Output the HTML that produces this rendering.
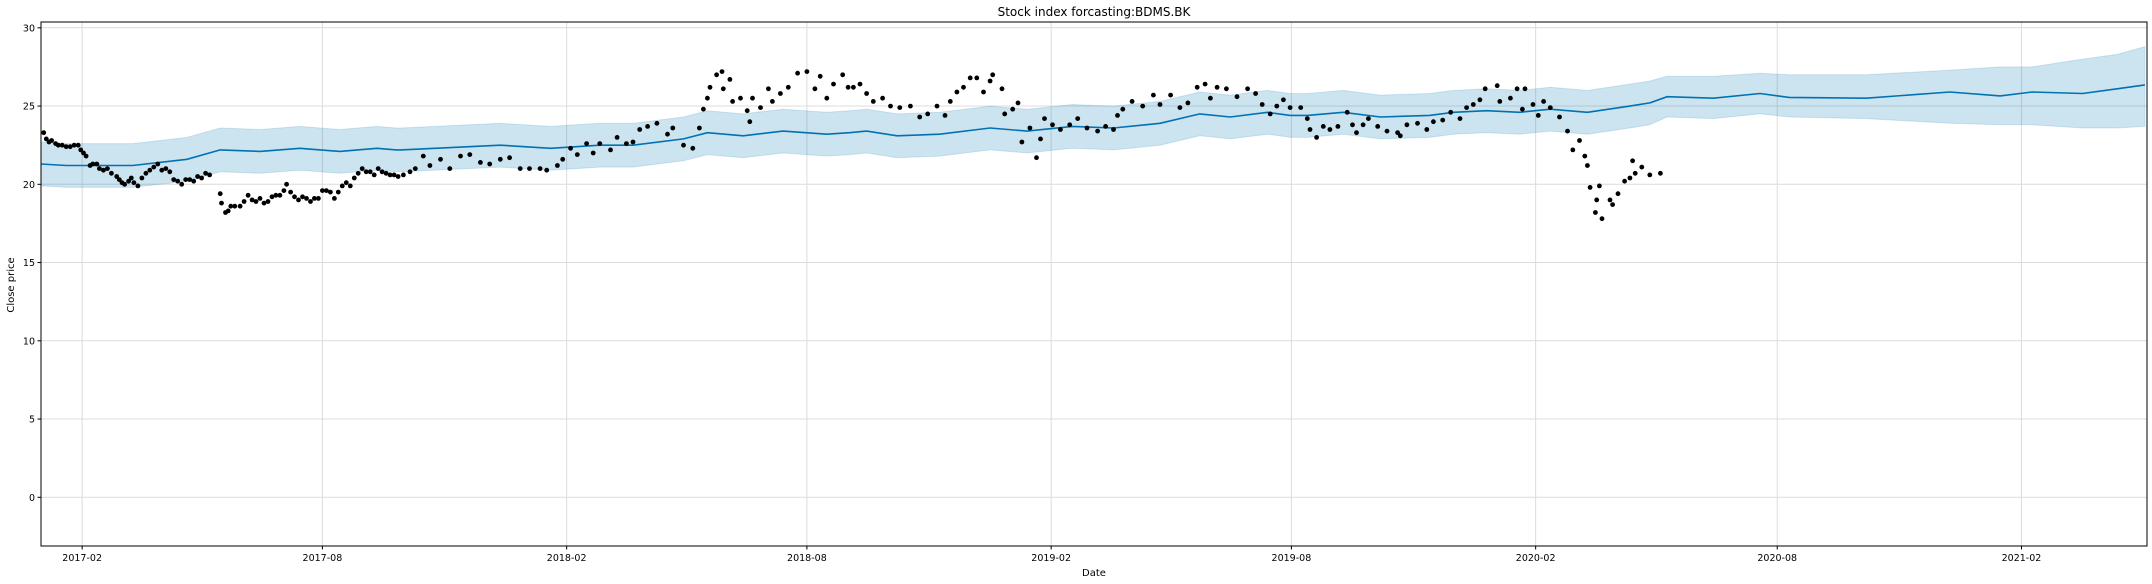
<!DOCTYPE html>
<html><head><meta charset="utf-8"><style>
html,body{margin:0;padding:0;background:#fff;}
svg{display:block;font-family:"DejaVu Sans","Liberation Sans",sans-serif;}
</style></head><body>
<svg id="chart" width="2152" height="584" viewBox="0 0 2152 584" xmlns="http://www.w3.org/2000/svg">
<text x="1094" y="16" text-anchor="middle" font-size="12" fill="#000">Stock index forcasting:BDMS.BK</text>
<text x="1094" y="576" text-anchor="middle" font-size="10" fill="#000">Date</text>
<text x="14" y="285" text-anchor="middle" font-size="10" fill="#000" transform="rotate(-90 14 285)">Close price</text>
<g id="grid"></g>
<g id="band"></g>
<g id="line"></g>
<g id="dots"></g>
<g id="axes"></g>
</svg>
<script>
// days since 2017-01-01
const obsDay=[2,4,6,8,11,13,16,19,22,25,28,30,32,34,37,39,42,44,47,50,53,57,59,61,63,66,68,70,73,76,79,82,85,88,91,94,97,100,103,106,109,112,115,118,121,124,127,135,136,139,141,143,146,150,153,156,159,162,165,168,171,174,177,180,183,185,188,191,194,197,200,203,206,209,212,215,218,221,224,227,230,233,236,239,242,245,248,251,254,257,260,263,266,269,
273,278,282,288,293,301,308,316,323,331,338,346,353,361,368,376,381,389,393,399,404,411,416,421,429,434,441,446,451,457,464,472,476,484,491,496,499,502,504,509,513,514,519,521,527,532,534,536,542,548,551,557,563,570,577,583,587,592,597,604,608,
612,617,622,627,634,640,647,655,662,668,675,681,685,690,695,700,705,710,715,717,724,726,732,736,739,745,750,753,756,762,768,775,781,788,796,802,808,811,815,822,830,838,843,851,858,864,871,877,881,886,893,901,909,915,920,926,931,936,
941,949,954,956,961,966,971,977,984,988,991,996,1000,1007,1014,1022,1024,1029,1037,1044,1049,1056,1062,1069,1074,1079,1084,1088,1097,1099,1107,1112,1116,1118,1124,1128,1132,1137,1144,1150,1154,1159,1163,1165,1167,1171,1172,1174,1176,1182,1184,1188,1193,1197,1199,1201,1206,1212,1220];
const obsClose=[23.3,22.9,22.7,22.8,22.6,22.5,22.5,22.4,22.4,22.5,22.5,22.2,22.0,21.8,21.2,21.3,21.3,21.0,20.9,21.0,20.7,20.5,20.3,20.1,20.0,20.2,20.4,20.1,19.9,20.4,20.7,20.9,21.1,21.3,20.9,21.0,20.8,20.3,20.2,20.0,20.3,20.3,20.2,20.5,20.4,20.7,20.6,19.4,18.8,18.2,18.3,18.6,18.6,18.6,18.9,19.3,19.0,18.9,19.1,18.8,18.9,19.2,19.3,19.3,19.6,20.0,19.5,19.2,19.0,19.2,19.1,18.9,19.1,19.1,19.6,19.6,19.5,19.1,19.5,19.9,20.1,19.9,20.4,20.7,21.0,20.8,20.8,20.6,21.0,20.8,20.7,20.6,20.6,20.5,
20.6,20.8,21.0,21.8,21.2,21.6,21.0,21.8,21.9,21.4,21.3,21.6,21.7,21.0,21.0,21.0,20.9,21.2,21.6,22.3,21.9,22.6,22.0,22.6,22.2,23.0,22.6,22.7,23.5,23.7,23.9,23.2,23.6,22.5,22.3,23.6,24.8,25.5,26.2,27.0,27.2,26.1,26.7,25.3,25.5,24.7,24.0,25.5,24.9,26.1,25.3,25.8,26.2,27.1,27.2,26.1,26.9,25.5,26.4,27.0,26.2,
26.2,26.4,25.8,25.3,25.5,25.0,24.9,25.0,24.3,24.5,25.0,24.4,25.3,25.9,26.2,26.8,26.8,25.9,26.6,27.0,26.1,24.5,24.8,25.2,22.7,23.6,21.7,22.9,24.2,23.8,23.5,23.8,24.2,23.6,23.4,23.7,23.5,24.4,24.8,25.3,25.0,25.7,25.1,25.7,24.9,25.2,26.2,26.4,25.5,26.2,26.1,25.6,26.1,25.8,25.1,24.5,25.0,25.4,
24.9,24.9,24.2,23.5,23.0,23.7,23.5,23.7,24.6,23.8,23.3,23.8,24.2,23.7,23.4,23.3,23.1,23.8,23.9,23.5,24.0,24.1,24.6,24.2,24.9,25.1,25.4,26.1,26.3,25.3,25.5,26.1,24.8,26.1,25.1,24.4,25.3,24.9,24.3,23.4,22.2,22.8,21.8,21.2,19.8,18.2,19.0,19.9,17.8,19.0,18.7,19.4,20.2,20.4,21.5,20.7,21.1,20.6,20.7];
const fcDay=[0,19,69,110,135,165,195,225,253,268,271,346,384,421,446,484,502,529,559,592,609,622,645,677,715,743,777,808,843,873,896,924,941,954,981,1009,1046,1064,1089,1114,1137,1165,1197,1212,1225,1260,1295,1317,1375,1438,1476,1500,1538,1564,1585];
const fcYhat=[21.3,21.2,21.2,21.6,22.2,22.1,22.3,22.1,22.3,22.2,22.2,22.5,22.3,22.5,22.5,22.9,23.3,23.1,23.4,23.2,23.3,23.4,23.1,23.2,23.6,23.4,23.7,23.6,23.9,24.5,24.3,24.6,24.4,24.4,24.6,24.3,24.4,24.6,24.7,24.6,24.8,24.6,25.0,25.2,25.6,25.5,25.8,25.55,25.5,25.9,25.65,25.9,25.8,26.1,26.35];
const fcUpper=[22.7,22.6,22.6,23.0,23.6,23.5,23.7,23.5,23.7,23.6,23.6,23.9,23.7,23.9,23.9,24.3,24.7,24.5,24.8,24.6,24.7,24.8,24.5,24.6,25.0,24.8,25.1,25.0,25.3,25.9,25.7,26.0,25.8,25.8,26.0,25.7,25.8,26.0,26.1,26.0,26.2,26.0,26.4,26.6,26.9,26.9,27.1,27.0,27.0,27.3,27.5,27.5,28.0,28.3,28.8];
const fcLower=[19.9,19.8,19.8,20.2,20.8,20.7,20.9,20.7,20.9,20.8,20.8,21.1,20.9,21.1,21.1,21.5,21.9,21.7,22.0,21.8,21.9,22.0,21.7,21.8,22.2,22.0,22.3,22.2,22.5,23.1,22.9,23.2,23.0,23.0,23.2,22.9,23.0,23.2,23.3,23.2,23.4,23.2,23.6,23.8,24.3,24.2,24.5,24.3,24.2,23.9,23.8,23.8,23.6,23.6,23.7];
const yTicks=[0,5,10,15,20,25,30];
const xTickLabels=["2017-02","2017-08","2018-02","2018-08","2019-02","2019-08","2020-02","2020-08","2021-02"];

const NS="http://www.w3.org/2000/svg";
const L=41,R=2147,T=22,B=546;
const D0=Date.UTC(2017,0,1);
const pxPerDay=1.3274;
function xs(day){return L+day*pxPerDay;}
function ys(v){return 497.3-v*15.65;}
function mk(tag,attrs,parent){const e=document.createElementNS(NS,tag);for(const k in attrs)e.setAttribute(k,attrs[k]);parent.appendChild(e);return e;}
const grid=document.getElementById('grid'),axes=document.getElementById('axes');
yTicks.forEach(v=>{
  const y=ys(v);
  const g=mk('line',{x1:L,x2:R,y1:y,y2:y,stroke:'#dcdcdc','stroke-width':1},grid);
  
  
  const t=mk('line',{x1:L-3.5,x2:L,y1:y,y2:y,stroke:'#000','stroke-width':1},axes);
  
  
  const lb=mk('text',{x:L-6,y:y+3.5,'text-anchor':'end','font-size':'9.5',fill:'#000'},axes);
  lb.textContent=v;
  
  
});
xTickLabels.forEach(s=>{
  const p=s.split('-');const day=(Date.UTC(+p[0],+p[1]-1,1)-D0)/86400000;const x=xs(day);
  const g=mk('line',{x1:x,x2:x,y1:T,y2:B,stroke:'#dcdcdc','stroke-width':1},grid);
  
  
  const t=mk('line',{x1:x,x2:x,y1:B,y2:B+3.5,stroke:'#000','stroke-width':1},axes);
  
  
  const lb=mk('text',{x:x,y:B+15,'text-anchor':'middle','font-size':'9.5',fill:'#000'},axes);
  lb.textContent=s;
  
  
});
const fr=mk('rect',{x:L,y:T,width:R-L,height:B-T,fill:'none',stroke:'#000','stroke-width':1},axes);


// band
let d='';
fcDay.forEach((dy,i)=>{d+=(i?'L':'M')+xs(dy).toFixed(1)+' '+ys(fcUpper[i]).toFixed(1);});
for(let i=fcDay.length-1;i>=0;i--){d+='L'+xs(fcDay[i]).toFixed(1)+' '+ys(fcLower[i]).toFixed(1);}
const band=mk('path',{d:d+'Z',fill:'#0072B2','fill-opacity':0.2,stroke:'#0072B2','stroke-opacity':0.15},document.getElementById('band'));


let ld='';
fcDay.forEach((dy,i)=>{ld+=(i?'L':'M')+xs(dy).toFixed(1)+' '+ys(fcYhat[i]).toFixed(1);});
const ln=mk('path',{d:ld,fill:'none',stroke:'#0072B2','stroke-width':1.6},document.getElementById('line'));


const dots=document.getElementById('dots');
obsDay.forEach((dy,i)=>{
  const c=mk('circle',{cx:xs(dy).toFixed(1),cy:ys(obsClose[i]).toFixed(1),r:2.4,fill:'#000'},dots);
  
  
});
</script>
</body></html>
